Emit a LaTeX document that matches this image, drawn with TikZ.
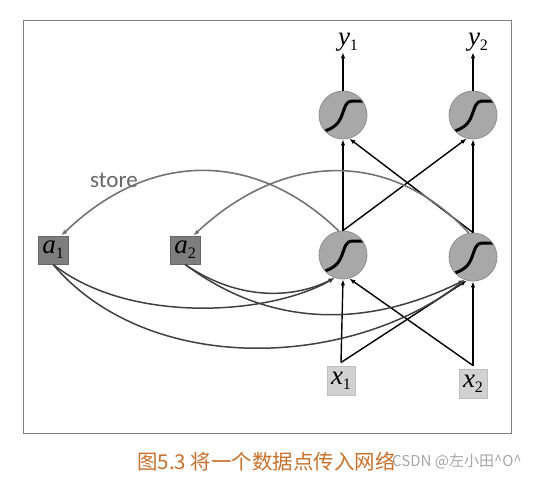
\documentclass[tikz,border=0pt]{standalone}
\usepackage{fontspec}
\setmainfont{Liberation Serif}
\newfontfamily\cjkfont{Noto Sans CJK SC}
\newfontfamily\storefont{Carlito}
\usetikzlibrary{arrows.meta}
\definecolor{capc}{HTML}{C8702A}
\definecolor{nodefill}{HTML}{A8A8A8}
\definecolor{nodeedge}{HTML}{8E8E8E}
\definecolor{afill}{HTML}{7E7E7E}
\definecolor{xfill}{HTML}{D2D2D2}
\newcommand\lab[2]{{\fontsize{27}{27}\selectfont\itshape #1}\raisebox{-5pt}{\fontsize{16}{16}\selectfont #2}}
\begin{document}
\begin{tikzpicture}[x=1pt,y=-1pt,
  neuron/.style={circle, fill=nodefill, draw=nodeedge, line width=0.8pt, minimum size=48pt, inner sep=0pt,
    path picture={\def\pc{path picture bounding box.center}
      \draw[draw=black, line width=3pt, line cap=round]
        ([shift={(-21,17)}]\pc) .. controls ([shift={(-8,13)}]\pc) and ([shift={(-4,8)}]\pc) .. ([shift={(-1,0)}]\pc)
        .. controls ([shift={(2,-8)}]\pc) and ([shift={(3,-14)}]\pc) .. ([shift={(9,-14)}]\pc) -- ([shift={(24,-14)}]\pc);}},
  abox/.style={rectangle, fill=afill, draw=black!60, line width=0.8pt, minimum width=30pt, minimum height=28pt, inner sep=0pt},
  xbox/.style={rectangle, fill=xfill, draw=black!25, line width=0.6pt, minimum width=28pt, minimum height=29pt, inner sep=0pt, outer sep=4pt},
  outlab/.style={inner sep=1pt},
  arr/.style={line width=1.4pt, -{Latex[length=6pt,width=4.5pt]}},
  storearr/.style={draw=black!55, line width=1.6pt, -{Latex[length=6pt,width=4.5pt]}},
  feedarr/.style={draw=black!75, line width=1.5pt, -{Latex[length=6pt,width=4.5pt]}}]
\useasboundingbox (0,0) rectangle (547,477);
\draw[draw=black!50, line width=0.9pt] (23,20) rectangle (511,433);

% nodes
\node[neuron] (o1) at (343,115) {};
\node[neuron] (o2) at (473,115) {};
\node[neuron] (h1) at (343,255) {};
\node[neuron] (h2) at (473,257) {};
\node[abox] (a1) at (53,250) {\lab{a}{1}};
\node[abox] (a2) at (185,250) {\lab{a}{2}};
\node[xbox] (x1) at (341,381) {\lab{x}{1}};
\node[xbox] (x2) at (473,384) {\lab{x}{2}};
\node[outlab] (y1) at (348,42) {\lab{y}{1}};
\node[outlab] (y2) at (478,42) {\lab{y}{2}};
\node[text=black!60, font=\storefont\fontsize{23}{23}\selectfont] (st) at (114,180) {store};

% outputs
\draw[arr] (o1.north) -- (o1.north |- y1.south);
\draw[arr] (o2.north) -- (o2.north |- y2.south);

% hidden -> output
\draw[arr] (h1.north) -- (o1.south);
\draw[arr] (h1.north) -- (o2.-105);
\draw[arr] (h2.north) -- (o2.south);
\draw[arr] (h2.north) -- (o1.-75);

% input -> hidden
\draw[arr] (x1.north) -- (h1.south);
\draw[arr] (x1.north) -- (h2.-105);
\draw[arr] (x2.north) -- (h2.south);
\draw[arr] (x2.north) -- (h1.-75);

% store curves
\draw[storearr] (h1.100) .. controls (255,150) and (150,150) .. (a1.60);
\draw[storearr] (h2.100) .. controls (392,150) and (285,150) .. (a2.60);

% recurrent feeds
\draw[feedarr] (a1.south) .. controls (130,325) and (270,315) .. (h1.-110);
\draw[feedarr] (a1.south) .. controls (150,378) and (352,368) .. (h2.-110);
\draw[feedarr] (a2.south) .. controls (240,302) and (295,298) .. (h1.-110);
\draw[feedarr] (a2.south) .. controls (280,335) and (380,322) .. (h2.-110);

% caption
\node[anchor=west, text=capc, font=\cjkfont\fontsize{20.5}{20.5}\selectfont, inner sep=0pt] (cap) at (137,462) {图5.3 将一个数据点传入网络};
\node[anchor=west, text=black!35, font=\cjkfont\fontsize{15}{15}\selectfont, inner sep=0pt] (wm) at (392,461) {CSDN @左小田\^{}O\^{}};
\end{tikzpicture}
\end{document}
